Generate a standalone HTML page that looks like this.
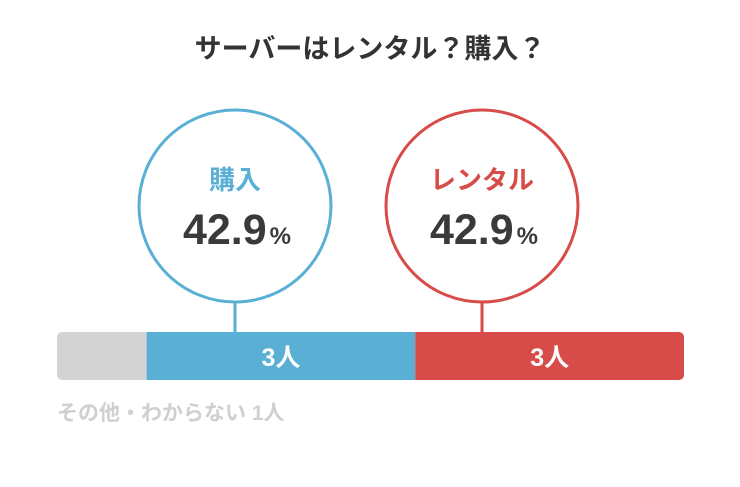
<!DOCTYPE html>
<html><head><meta charset="utf-8"><style>
body{margin:0;width:740px;height:482px;background:#fff;overflow:hidden;font-family:"Liberation Sans","Noto Sans CJK JP",sans-serif}
</style></head><body>
<svg id="chart" width="740" height="482" xmlns="http://www.w3.org/2000/svg" font-family="Liberation Sans, Noto Sans CJK JP, sans-serif">
<defs><clipPath id="barclip"><rect x="57" y="332" width="627" height="48" rx="5"/></clipPath></defs>
<text x="370" y="58" text-anchor="middle" font-size="27" font-weight="bold" fill="#333">サーバーはレンタル？購入？</text>
<g id="bars"></g>
</svg>
<script>
const categories=["その他・わからない","購入","レンタル"];
const values=[1,3,3];
const colors=["#d3d3d3","#5aafd5","#d74c48"];
const circleX=[null,235,482];
const x0=57,x1=684,barY=332,barH=48;
const total=values.reduce((a,b)=>a+b,0);
const xs=v=>x0+(x1-x0)*v/total;
const svg=document.getElementById('bars');
const NS="http://www.w3.org/2000/svg";
function mk(t,a){const e=document.createElementNS(NS,t);for(const k in a)e.setAttribute(k,a[k]);svg.appendChild(e);return e;}
let acc=0;
values.forEach((v,i)=>{
  const a=xs(acc),b=xs(acc+v);acc+=v;
  const r=mk('rect',{x:a,y:barY,width:b-a,height:barH,fill:colors[i],'clip-path':'url(#barclip)'});
  
  
  const pct=(v/total*100).toFixed(1);
  if(i===0){
    const t=mk('text',{x:57,y:420,'font-size':21,'font-weight':'bold',fill:'#d0d0d0'});
    t.textContent=categories[i]+' '+v+'人';
    
    
  }else{
    const t=mk('text',{x:(a+b)/2,y:366,'text-anchor':'middle','font-size':25,'font-weight':'bold',fill:'#fff'});
    t.textContent=v+'人';
    
    
    const cx=circleX[i];
    const l=mk('line',{x1:cx,y1:302,x2:cx,y2:barY,stroke:colors[i],'stroke-width':3});
    
    
    const c=mk('circle',{cx:cx,cy:206,r:96,fill:'#fff',stroke:colors[i],'stroke-width':3});
    
    
    const n=mk('text',{x:cx,y:189,'text-anchor':'middle','font-size':26,'font-weight':'bold',fill:colors[i]});
    n.textContent=categories[i];
    
    
    const p=mk('text',{x:cx+2,y:244,'text-anchor':'middle','font-size':43,'font-weight':'bold',fill:'#3a3a3a'});
    p.innerHTML=pct+'<tspan font-size="24" dx="3">%</tspan>';
    
    
  }
});
</script>
</body></html>
